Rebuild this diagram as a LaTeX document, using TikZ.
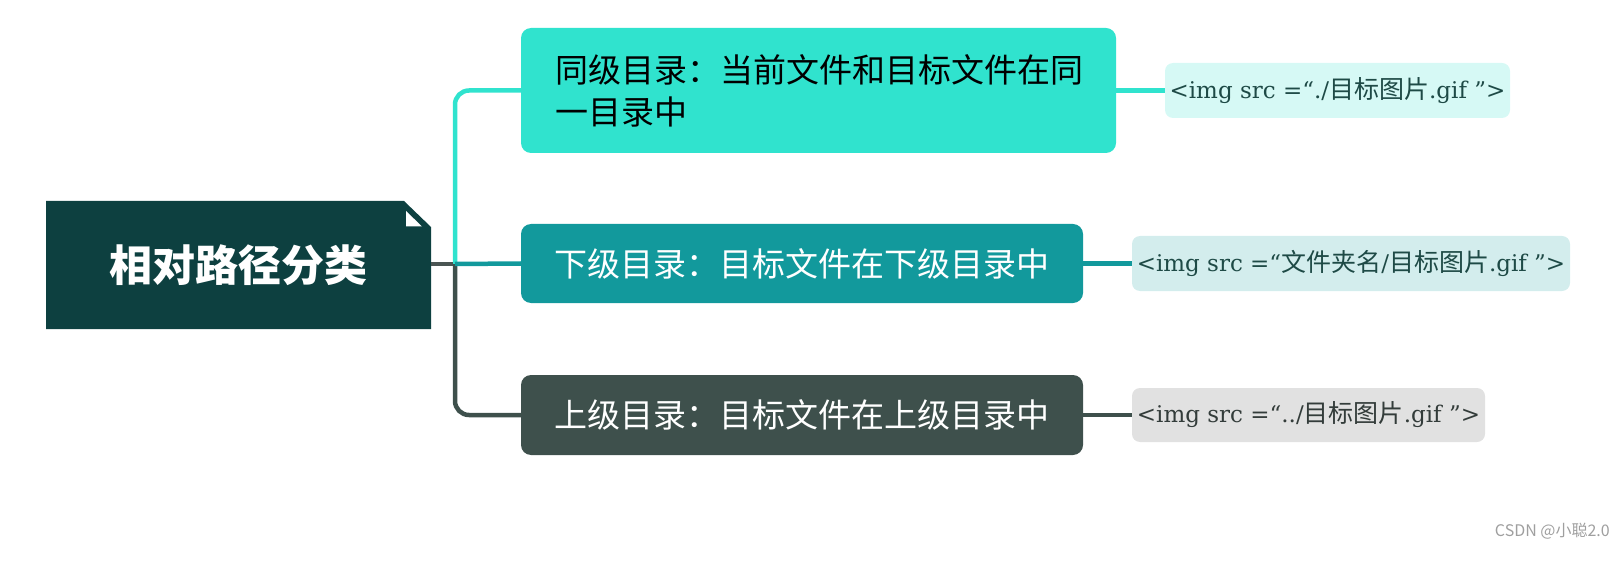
\documentclass[tikz,border=0pt]{standalone}
\usepackage{fontspec}
\newfontfamily\cjk{Noto Sans CJK SC}
\newfontfamily\latserif{DejaVu Serif}
\newcommand\latpart[1]{{\latserif\fontsize{23}{30}\selectfont #1}}
\definecolor{rootc}{HTML}{0D4040}
\definecolor{c1}{HTML}{30E3CE}
\definecolor{c2}{HTML}{12999C}
\definecolor{c3}{HTML}{3E504C}
\definecolor{rootlink}{HTML}{4A5553}
\definecolor{l1fill}{HTML}{D6F9F5}
\definecolor{l2fill}{HTML}{D3EDED}
\definecolor{l3fill}{HTML}{E1E1E1}
\definecolor{l1text}{HTML}{1E4A46}
\definecolor{l3text}{HTML}{333C3A}
\begin{document}
\begin{tikzpicture}[x=1pt,y=-1pt,
  mainbox/.style={rounded corners=10pt, inner sep=0pt, font=\cjk\fontsize{33}{42}\selectfont},
  leafbox/.style={rounded corners=8pt, inner sep=0pt, font=\cjk\fontsize{25}{30}\selectfont},
  link/.style={line width=4.5pt},
]
\useasboundingbox (0,0) rectangle (1615,564);

% root
\fill[rootc] (46,201) -- (404,201) -- (431,227) -- (431,329) -- (46,329) -- cycle;
\fill[white] (406,211) -- (406,226.5) -- (422,226.5) -- cycle;
\node[inner sep=0pt, minimum width=385pt, minimum height=128pt, text=white,
  font=\cjk\bfseries\fontsize{43}{50}\selectfont] (root) at (238.5,265) {相对路径分类};

% main nodes
\node[mainbox, fill=c1, minimum width=595pt, minimum height=125pt] (n1) at (818.5,90.5) {};
\node[anchor=west, inner sep=0pt, text width=540pt, align=left,
  font=\cjk\fontsize{33}{42}\selectfont] (n1t) at (555,90.5) {同级目录：当前文件和目标文件在同\\一目录中};
\node[mainbox, fill=c2, text=white, minimum width=562pt, minimum height=79pt] (n2) at (802,263.5) {下级目录：目标文件在下级目录中};
\node[mainbox, fill=c3, text=white, minimum width=562pt, minimum height=80pt] (n3) at (802,415) {上级目录：目标文件在上级目录中};

% leaves
\node[leafbox, fill=l1fill, text=l1text, minimum width=345pt, minimum height=55pt] (l1) at (1337.5,90.5)
  {\latpart{<img src =“./}目标图片\latpart{.gif ”>}};
\node[leafbox, fill=l2fill, text=l1text, minimum width=438pt, minimum height=55pt] (l2) at (1351,263.5)
  {\latpart{<img src =“}文件夹名\latpart{/}目标图片\latpart{.gif ”>}};
\node[leafbox, fill=l3fill, text=l3text, minimum width=353pt, minimum height=54pt] (l3) at (1308.5,415)
  {\latpart{<img src =“../}目标图片\latpart{.gif ”>}};

% connectors
\coordinate (j) at (455,264);
\draw[link, c3, rounded corners=14pt] (j) |- (n3.west);
\draw[link, c1, rounded corners=14pt] (j) |- (n1.west);
\draw[link, c2] (j) -- (n2.west);
\draw[link, rootlink] (root.east |- j) -- ([xshift=-2pt]j);
\draw[link, c1] (n1.east) -- (l1.west);
\draw[link, c2] (n2.east) -- (l2.west);
\draw[link, c3] (n3.east) -- (l3.west);

% watermark
\node[anchor=east, inner sep=0pt, text=gray!75, font=\cjk\fontsize{16}{18}\selectfont] (wm) at (1610,531) {CSDN @小聪2.0};
\end{tikzpicture}
\end{document}
